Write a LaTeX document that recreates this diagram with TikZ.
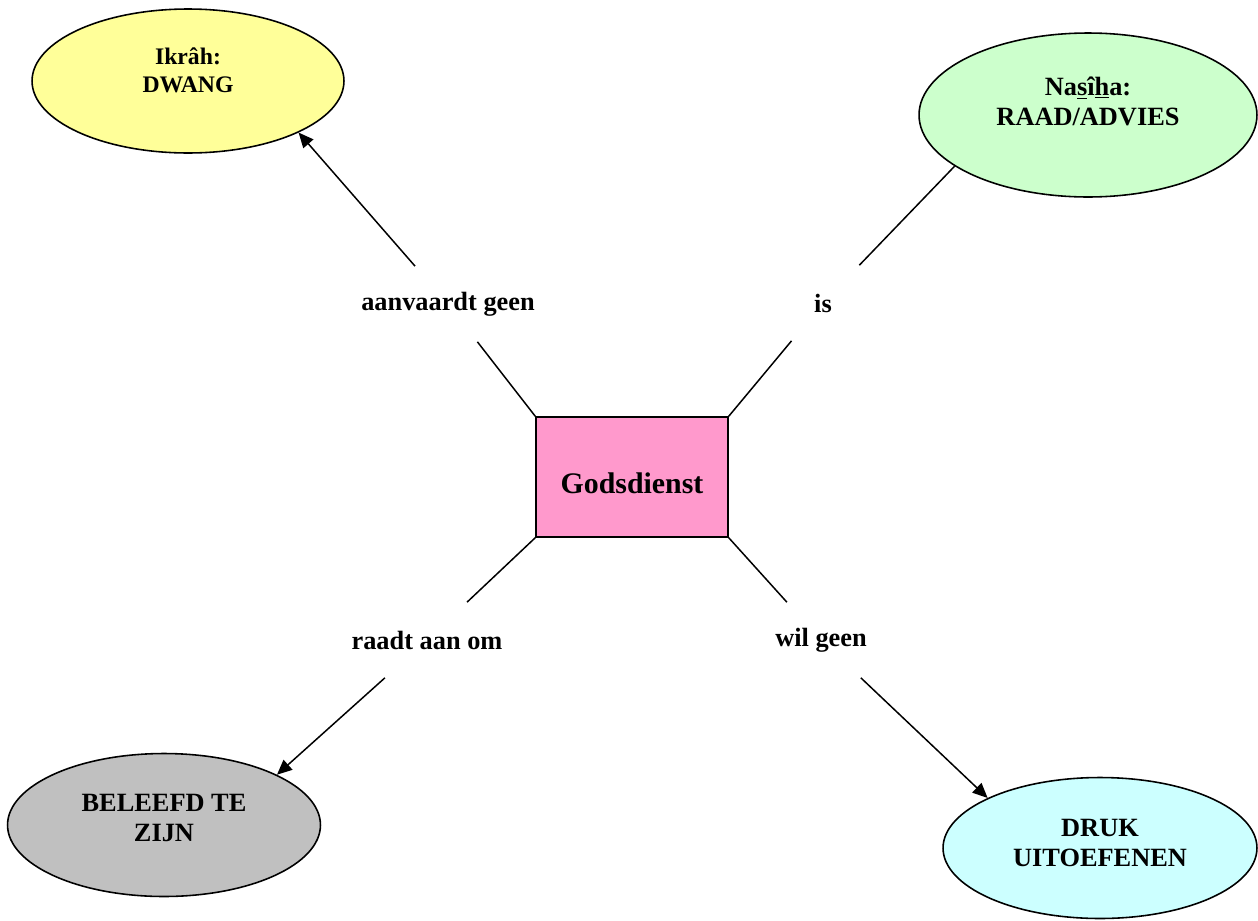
\documentclass[tikz,border=0pt]{standalone}
\usepackage{fontspec}
\setmainfont{Liberation Serif}
\usetikzlibrary{shapes,arrows.meta,positioning}

\definecolor{geel}{HTML}{FFFF99}
\definecolor{groen}{HTML}{CCFFCC}
\definecolor{grijs}{HTML}{C0C0C0}
\definecolor{lichtblauw}{HTML}{CCFFFF}
\definecolor{roze}{HTML}{FF99CC}

\tikzset{
  ovaal/.style={draw, ellipse, line width=0.9pt, inner sep=0pt},
  ovaaltekst/.style={align=center, font=\bfseries\fontsize{15}{17}\selectfont},
  relatie/.style={rectangle, inner sep=0pt, minimum height=1.5cm, minimum width=2cm, font=\bfseries\fontsize{15}{17}\selectfont},
  lijn/.style={line width=0.85pt},
  pijl/.style={line width=0.85pt, -{Triangle[length=8.5pt,width=7.5pt]}}
}

\begin{document}
\begin{tikzpicture}[x=0.02cm, y=-0.02cm]
\useasboundingbox (0,0) rectangle (1258,920);

\node[draw, rectangle, fill=roze, line width=0.9pt, minimum width=3.84cm, minimum height=2.4cm, text height=19pt, text depth=0pt, font=\bfseries\fontsize{17}{20}\selectfont] (gods) at (632,477) {Godsdienst};

\node[ovaal, fill=geel, minimum width=6.24cm, minimum height=2.88cm] (ikrah) at (188,81) {};
\node[ovaaltekst, font=\bfseries\fontsize{13.5}{16}\selectfont] (ikrahtekst) at (188,70) {Ikrâh:\\DWANG};
\node[ovaal, fill=groen, minimum width=6.76cm, minimum height=3.28cm] (nasiha) at (1088,115) {};
\node[ovaaltekst] (nasihatekst) at (1088,101) {Na\underline{s}î\underline{h}a:\\RAAD/ADVIES};
\node[ovaal, fill=grijs, minimum width=6.26cm, minimum height=2.86cm] (beleefd) at (164,825) {};
\node[ovaaltekst] (beleefdtekst) at (164,818) {BELEEFD TE\\ZIJN};
\node[ovaal, fill=lichtblauw, minimum width=6.28cm, minimum height=2.82cm] (druk) at (1100,848) {};
\node[ovaaltekst] (druktekst) at (1100,843) {DRUK\\UITOEFENEN};

\node[relatie] (aanvaardt) at (448,304) {aanvaardt geen};
\node[relatie] (is) at (823,303) {is};
\node[relatie] (raadt) at (427,640) {raadt aan om};
\node[relatie] (wil) at (821,640) {wil geen};

\draw[lijn] (gods.north west) -- (aanvaardt);
\draw[pijl] (aanvaardt) -- (ikrah.-25);
\draw[lijn] (gods.north east) -- (is);
\draw[lijn] (is) -- (nasiha.201);
\draw[lijn] (gods.south west) -- (raadt);
\draw[pijl] (raadt) -- (beleefd.24);
\draw[lijn] (gods.south east) -- (wil);
\draw[pijl] (wil) -- (druk.156);
\end{tikzpicture}
\end{document}
